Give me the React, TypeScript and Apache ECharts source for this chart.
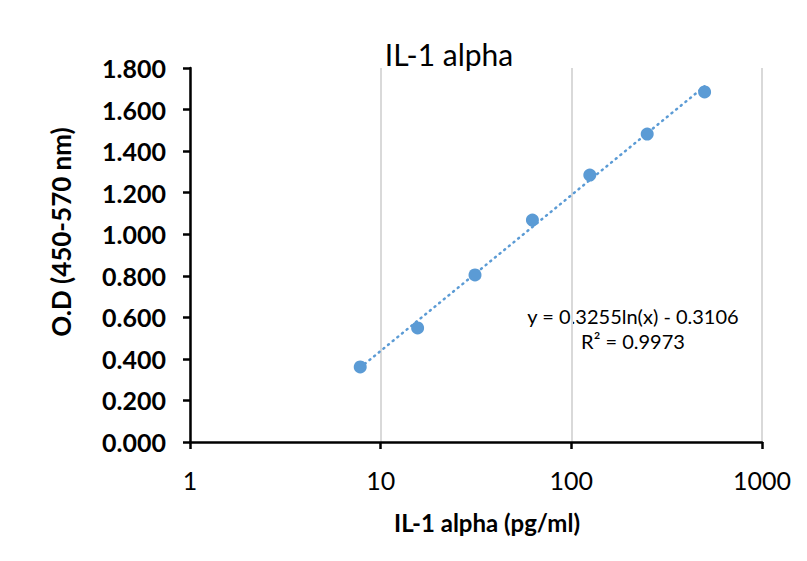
import React, { useEffect, useRef } from "react";
import * as echarts from "echarts";

// concentrations (pg/ml) and measured optical density
const concentrations = [7.8125, 15.625, 31.25, 62.5, 125, 250, 500];
const odValues = [0.361, 0.549, 0.804, 1.068, 1.285, 1.482, 1.685];

// log trendline end points
const trendX = [7.8125, 500];
const trendY = [0.358, 1.712];

const equationLines = ["y = 0.3255ln(x) - 0.3106", "R² = 0.9973"];

const BLUE = "#5b9bd5";
const FONT = "Lato";

const App = () => {
  const chartRef = useRef<HTMLDivElement>(null);

  useEffect(() => {
    const chart = echarts.init(chartRef.current, null, { renderer: "svg" });

    const option = {
      animation: false,
      textStyle: { fontFamily: FONT },
      title: {
        text: "IL-1 alpha",
        left: 444,
        top: 34,
        textAlign: "center",
        textStyle: { fontFamily: FONT, fontSize: 30, fontWeight: "normal", color: "#000" },
      },
      grid: { left: 190, right: 45, top: 68, bottom: 119 },
      xAxis: {
        type: "log",
        logBase: 10,
        min: 1,
        max: 1000,
        axisLine: { lineStyle: { color: "#000", width: 2.5 } },
        axisTick: { show: true, inside: false, length: 7, lineStyle: { color: "#000", width: 2.5 } },
        axisLabel: {
          fontSize: 25,
          color: "#000",
          margin: 25,
          formatter: (v: number) => String(Math.round(v)),
        },
        splitLine: { show: true, lineStyle: { color: "#d9d9d9", width: 2 } },
      },
      yAxis: {
        type: "value",
        min: 0,
        max: 1.8,
        interval: 0.2,
        axisLine: { show: true, lineStyle: { color: "#000", width: 2.5 } },
        axisTick: { show: true, inside: false, length: 7, lineStyle: { color: "#000", width: 2.5 } },
        axisLabel: {
          fontSize: 25,
          fontWeight: "bold",
          color: "#000",
          margin: 24,
          formatter: (v: number) => v.toFixed(3),
        },
        splitLine: { show: false },
      },
      series: [
        {
          type: "line",
          data: trendX.map((x, i) => [x, trendY[i]]),
          showSymbol: false,
          symbol: "none",
          lineStyle: { color: BLUE, width: 2.5, type: [1, 5], cap: "round" },
          silent: true,
          z: 1,
        },
        {
          type: "scatter",
          data: concentrations.map((x, i) => [x, odValues[i]]),
          symbol: "circle",
          symbolSize: 13,
          itemStyle: { color: BLUE, opacity: 1 },
          z: 2,
        },
      ],
      graphic: [
        {
          type: "text",
          x: 61,
          y: 232,
          rotation: Math.PI / 2,
          style: {
            text: "O.D (450-570 nm)",
            fontFamily: FONT,
            fontSize: 26,
            fontWeight: "bold",
            fill: "#000",
            textAlign: "center",
            textVerticalAlign: "middle",
          },
        },
        {
          type: "text",
          x: 487,
          y: 522,
          style: {
            text: "IL-1 alpha (pg/ml)",
            fontFamily: FONT,
            fontSize: 24,
            fontWeight: "bold",
            fill: "#000",
            textAlign: "center",
            textVerticalAlign: "middle",
          },
        },
        ...equationLines.map((line, i) => ({
          type: "text",
          x: 633,
          y: 316 + i * 25,
          style: {
            text: line,
            fontFamily: FONT,
            fontSize: 20,
            fill: "#000",
            textAlign: "center",
            textVerticalAlign: "middle",
          },
        })),
      ],
    };

    chart.setOption(option);

    return () => {
      chart.dispose();
    };
  }, []);

  return (
    <div
      ref={chartRef}
      style={{ position: "absolute", left: 0, top: 0, width: "807px", height: "561px" }}
    />
  );
};

export default App;
